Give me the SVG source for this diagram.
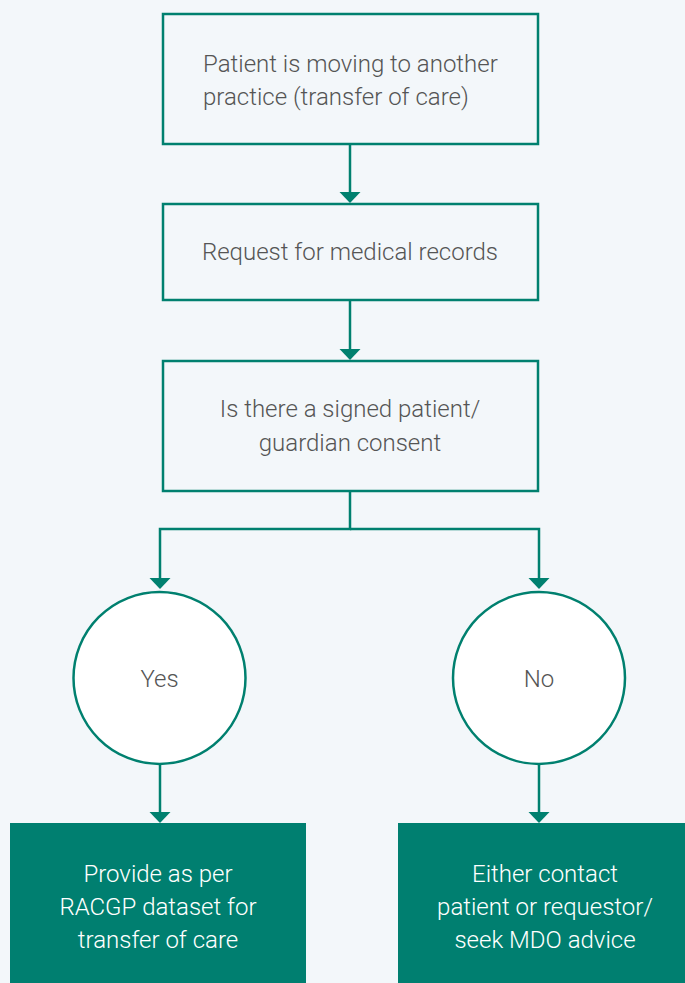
<svg xmlns="http://www.w3.org/2000/svg" width="685" height="983" viewBox="0 0 685 983">
<defs>
<style>
.box{fill:#f3f7fa;stroke:#00806f;stroke-width:2.5}
.circ{fill:#ffffff;stroke:#00806f;stroke-width:2.5}
.dark{fill:#007f70}
.t{font-family:"Roboto Light",Roboto,"Liberation Sans",sans-serif;font-weight:300;font-size:24px;fill:#555555}
.w{font-family:"Roboto Light",Roboto,"Liberation Sans",sans-serif;font-weight:300;font-size:24px;fill:#ffffff;text-anchor:middle}
.c{text-anchor:middle}
.ln{fill:none;stroke:#00806f;stroke-width:2.5}
.ah{fill:#00806f}
</style>
</defs>
<rect width="685" height="983" fill="#f3f7fa"/>
<g id="connectors">
<line class="ln" x1="350" y1="144" x2="350" y2="194"/>
<polygon class="ah" points="339.5,192 360.5,192 350,203"/>
<line class="ln" x1="350" y1="300" x2="350" y2="351"/>
<polygon class="ah" points="339.5,349 360.5,349 350,360"/>
<polyline class="ln" points="350,491 350,529 160,529 160,580"/>
<polyline class="ln" points="350,529 539,529 539,580"/>
<polygon class="ah" points="149.5,578 170.5,578 160,589"/>
<polygon class="ah" points="528.5,578 549.5,578 539,589"/>
<line class="ln" x1="160" y1="764" x2="160" y2="814"/>
<polygon class="ah" points="149.5,812 170.5,812 160,823"/>
<line class="ln" x1="539" y1="764" x2="539" y2="814"/>
<polygon class="ah" points="528.5,812 549.5,812 539,823"/>
</g>
<g id="n1">
<rect class="box" x="163" y="14" width="375" height="130"/>
<text class="t" x="203" y="72">Patient is moving to another</text>
<text class="t" x="203" y="105">practice (transfer of care)</text>
</g>
<g id="n2">
<rect class="box" x="163" y="204" width="375" height="96"/>
<text class="t c" x="350" y="260">Request for medical records</text>
</g>
<g id="n3">
<rect class="box" x="163" y="361" width="375" height="130"/>
<text class="t c" x="350" y="417">Is there a signed patient/</text>
<text class="t c" x="350" y="451">guardian consent</text>
</g>
<g id="yes">
<circle class="circ" cx="159.5" cy="678" r="86"/>
<text class="t c" x="159.5" y="687">Yes</text>
</g>
<g id="no">
<circle class="circ" cx="539" cy="678" r="86"/>
<text class="t c" x="539" y="687">No</text>
</g>
<g id="provide">
<rect class="dark" x="10" y="823" width="296" height="160"/>
<text class="w" x="158" y="882">Provide as per</text>
<text class="w" x="158" y="915">RACGP dataset for</text>
<text class="w" x="158" y="948">transfer of care</text>
</g>
<g id="either">
<rect class="dark" x="398" y="823" width="287" height="160"/>
<text class="w" x="545" y="882">Either contact</text>
<text class="w" x="545" y="915">patient or requestor/</text>
<text class="w" x="545" y="948">seek MDO advice</text>
</g>
</svg>
